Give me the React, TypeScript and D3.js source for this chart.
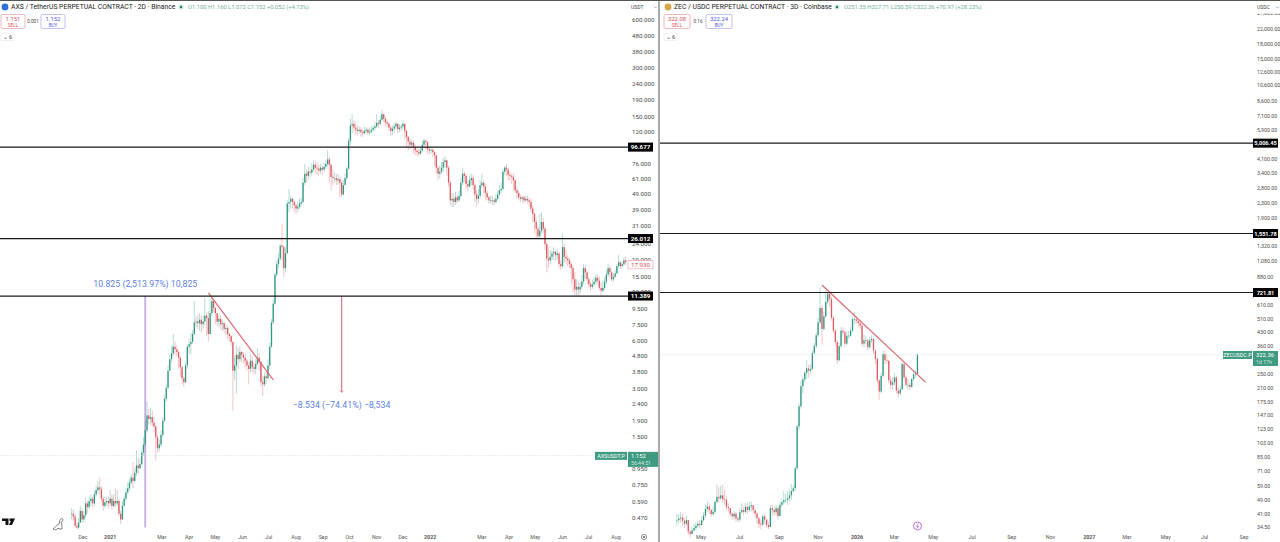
import React from "react";
import * as d3 from "d3";

const FONT = "Roboto, 'Liberation Sans', sans-serif";
const UP = "#2f9880";
const DOWN = "#dc5a62";

// AXS / USDT 2D candles
const axsClose = [
  .50, .48, .42, .41, .44, .52, .46, .49, .58, .55,
  .60, .62, .58, .66, .70, .73, .71, .62, .56, .59,
  .60, .58, .62, .56, .60, .58, .60, .50, .46, .56,
  .62, .68, .72, .78, .84, .80, .90, 1.0, .96, 1.02,
  1.20, 1.35, 1.65, 2.05, 1.95, 2.00, 1.85, 1.75, 1.50, 1.28,
  1.35, 1.55, 1.90, 2.6, 3.05, 3.9, 4.6, 5.0, 5.5, 5.3,
  5.1, 4.7, 4.1, 3.5, 3.3, 4.2, 5.5, 5.7, 5.9, 6.6,
  7.8, 7.9, 7.7, 8.1, 7.6, 7.9, 8.6, 8.3, 6.6, 8.9,
  10.6, 9.6, 8.9, 7.9, 8.2, 7.6, 7.7, 7.1, 7.2, 6.6,
  6.4, 5.9, 3.9, 4.2, 4.9, 4.6, 5.1, 4.9, 4.7, 4.5,
  4.2, 4.0, 4.5, 4.1, 4.0, 4.3, 4.7, 4.4, 3.3, 3.2,
  3.6, 3.5, 4.2, 5.5, 7.8, 10.2, 15.5, 18, 19.5, 23.5,
  23, 17, 21, 43, 44, 46, 44, 42, 40, 41,
  43, 44, 58, 66, 64, 68, 67, 70, 75, 72,
  71, 69, 72, 70, 73, 76, 81, 75, 63, 62,
  62, 60, 61, 58, 49, 56, 62, 71, 106, 132,
  135, 128, 125, 122, 124, 120, 118, 122, 124, 119,
  121, 124, 127, 130, 137, 135, 143, 155, 145, 138,
  135, 128, 122, 126, 130, 135, 125, 128, 130, 135,
  122, 112, 105, 100, 103, 97, 92, 90, 88, 92,
  100, 106, 104, 94, 92, 93, 90, 86, 72, 66,
  68, 72, 78, 80, 72, 58, 45, 46, 44, 47,
  45, 48, 58, 66, 64, 57, 55, 60, 62, 56,
  49, 46, 48, 56, 58, 55, 50, 47, 45, 45,
  45, 44, 46, 49, 52, 53, 68, 72, 70, 65,
  64, 63, 60, 52, 50, 47, 46, 47, 45, 46,
  45, 44, 40, 37, 33, 30, 27, 29, 33, 30,
  24, 19.5, 19, 20, 21, 21.5, 20.5, 21, 18, 17.5,
  23, 20, 19.5, 19, 18, 17, 14.5, 12.5, 13, 12.5,
  13, 14, 17, 16, 14.5, 13.5, 13, 13.5, 14, 14.8,
  14.2, 12.8, 12.3, 12.8, 14, 15.5, 17, 16, 14.5, 15,
  15.8, 17.5, 18.5, 17.5, 18, 19, 18.5,
];
const axsHigh = [
  .54, .53, .50, .44, .47, .56, .54, .52, .63, .60,
  .64, .66, .64, .70, .75, .80, .84, .74, .64, .64,
  .64, .64, .70, .66, .66, .72, .70, .62, .52, .60,
  .65, .72, .78, .82, .88, 1.05, .96, 1.24, 1.12, 1.1,
  1.25, 1.5, 1.9, 2.5, 2.25, 2.3, 2.2, 2.0, 1.8, 1.55,
  1.45, 1.65, 2.0, 2.75, 3.2, 4.2, 4.9, 5.6, 6.6, 5.9,
  5.6, 5.2, 4.8, 4.2, 3.6, 4.4, 5.7, 6.1, 6.7, 7.0,
  10.6, 8.4, 8.7, 8.9, 8.6, 8.6, 11.1, 9.0, 9.2, 11.0,
  11.2, 10.7, 9.7, 8.9, 8.7, 8.7, 8.1, 7.9, 7.6, 7.4,
  6.7, 6.5, 5.9, 4.8, 5.6, 5.4, 5.6, 5.2, 5.1, 5.0,
  4.6, 4.4, 5.0, 4.8, 4.4, 4.6, 5.4, 5.0, 4.5, 3.6,
  3.8, 3.9, 4.6, 5.8, 8.2, 10.8, 16, 19, 21, 24,
  32, 23.5, 23, 45, 53, 48, 47, 45, 43, 44,
  46, 47, 62, 76, 70, 73, 72, 77, 80, 80,
  78, 75, 76, 74, 77, 80, 92, 84, 76, 70,
  67, 66, 66, 63, 60, 60, 66, 73, 110, 145,
  155, 142, 140, 132, 130, 129, 124, 130, 128, 128,
  128, 130, 132, 138, 155, 143, 152, 165, 155, 150,
  142, 138, 132, 132, 137, 140, 137, 134, 135, 143,
  137, 124, 114, 110, 108, 106, 100, 95, 94, 96,
  106, 110, 108, 105, 97, 98, 95, 91, 87, 74,
  74, 78, 83, 85, 81, 74, 60, 50, 50, 51,
  49, 52, 62, 72, 68, 66, 60, 64, 66, 65,
  58, 52, 53, 60, 66, 60, 57, 52, 48, 48,
  48, 47, 49, 52, 56, 58, 71, 74, 76, 72,
  68, 66, 66, 61, 54, 52, 49, 48, 48, 48,
  48, 47, 46, 42, 38, 35, 31, 37, 38, 35,
  31, 25, 23, 22, 22, 23, 22, 22.5, 21.5, 19,
  28, 24, 22, 20.5, 19.5, 18.5, 17.5, 16, 14.5, 14,
  14, 15.5, 18, 17.8, 16.5, 15, 14, 14.5, 15, 15.5,
  15.5, 15, 13.8, 14, 15, 16.5, 18.2, 17.6, 16.5, 15.8,
  16.5, 18, 20.5, 19, 18.5, 20, 20,
];
const axsLow = [
  .46, .45, .41, .40, .40, .44, .44, .44, .47, .50,
  .53, .56, .55, .56, .64, .67, .66, .59, .52, .54,
  .56, .54, .56, .53, .55, .55, .56, .48, .43, .46,
  .55, .60, .66, .70, .76, .72, .78, .86, .88, .94,
  1.0, 1.15, 1.3, 1.6, 1.8, 1.8, 1.75, 1.6, 1.07, 1.2,
  1.22, 1.3, 1.5, 1.85, 2.5, 3.0, 3.9, 4.4, 4.8, 4.9,
  4.8, 4.0, 3.6, 3.2, 3.1, 3.3, 4.0, 5.0, 4.9, 5.7,
  6.5, 7.3, 7.1, 6.9, 6.8, 7.1, 7.5, 6.4, 5.9, 6.5,
  8.5, 9.0, 7.6, 7.4, 7.3, 7.0, 6.9, 6.7, 6.5, 6.1,
  5.9, 5.6, 2.2, 3.4, 2.8, 4.0, 4.4, 4.4, 4.3, 4.1,
  3.9, 3.2, 3.8, 3.8, 3.7, 3.7, 4.2, 3.9, 3.1, 2.7,
  3.1, 3.2, 3.4, 4.0, 5.4, 7.6, 10, 15, 17, 19,
  19, 15, 16, 21, 38, 40, 40, 38, 37, 38,
  40, 41, 43, 56, 58, 60, 63, 64, 68, 66,
  65, 64, 66, 65, 68, 70, 73, 58, 52, 56,
  58, 56, 56, 47, 47, 48, 57, 60, 70, 100,
  118, 122, 115, 114, 117, 113, 112, 116, 118, 115,
  114, 118, 120, 123, 127, 128, 132, 140, 138, 130,
  128, 122, 113, 115, 118, 125, 118, 120, 122, 125,
  108, 96, 92, 94, 95, 88, 86, 85, 85, 86,
  90, 98, 94, 88, 87, 88, 84, 74, 66, 60,
  62, 66, 68, 72, 64, 55, 42, 41, 41, 42,
  43, 44, 46, 56, 58, 53, 51, 54, 56, 52,
  44, 41, 43, 46, 54, 50, 45, 45, 43, 43,
  42, 42, 43, 45, 48, 50, 52, 65, 64, 60,
  60, 57, 52, 50, 46, 45, 44, 44, 43, 44,
  43, 41, 38, 33, 28, 26, 26, 26, 28, 28,
  22, 16, 17, 18, 19, 19, 19, 19, 17, 16.5,
  17, 18.5, 18, 17.5, 17, 13.5, 12, 11.5, 11.5, 11.2,
  11.8, 12.6, 13.5, 14.5, 13.5, 12.8, 12.3, 12.6, 13, 13.4,
  13.5, 12.3, 11.5, 12, 12.4, 13.5, 15, 14.8, 14, 14,
  14.8, 15.6, 17, 16.8, 17, 17.5, 17.8,
];

// ZEC / USDC 3D candles
const zecClose = [
  37.7, 38.5, 39, 37.4, 36, 37.7, 32.5, 31.5, 33, 34,
  35, 36, 35.4, 37.7, 40, 43.6, 45, 43, 40.8, 42,
  47.7, 51, 50, 52, 49.5, 49, 44.8, 44, 41, 39.6,
  41, 38.6, 38, 41.8, 43, 42, 44.8, 43, 45, 45.7,
  43, 41, 38.6, 36, 35.6, 39.6, 38, 35.4, 34.5, 44,
  43, 41.8, 44, 39.8, 46, 47.6, 48.8, 49, 50, 52,
  55, 57, 74, 127, 165, 214, 234, 255, 270, 262,
  268, 330, 360, 415, 490, 590, 450, 530, 640, 710,
  665, 520, 440, 380, 300, 360, 440, 430, 372, 412,
  412, 440, 510, 510, 500, 485, 470, 372, 388, 388,
  355, 388, 395, 340, 305, 231, 200, 245, 325, 300,
  298, 231, 218, 225, 240, 202, 195, 205, 285, 240,
  218, 218, 212, 235, 250, 251.35, 322.36,
];
const zecHigh = [
  41, 41, 42, 41, 39, 40, 38, 33, 34.5, 36,
  36.5, 37.5, 38, 39.5, 42, 46, 48, 47, 44, 45,
  49, 60, 58, 59, 60, 56, 51, 47, 44, 42,
  42.5, 42, 40, 44, 47, 45, 47, 47, 48, 48,
  46, 43, 42, 39, 38, 41, 41, 38, 37, 46,
  46, 45, 46, 45, 48, 50, 55, 53, 55, 56,
  60, 59, 76, 130, 172, 230, 240, 262, 300, 282,
  285, 340, 375, 430, 520, 770, 610, 560, 745, 730,
  725, 680, 535, 450, 390, 375, 460, 460, 440, 440,
  440, 460, 525, 560, 530, 510, 495, 480, 420, 410,
  395, 405, 415, 400, 345, 310, 235, 255, 340, 340,
  320, 300, 245, 240, 255, 245, 210, 215, 290, 295,
  245, 235, 225, 240, 260, 262, 327.71,
];
const zecLow = [
  35, 36, 36.5, 35, 34, 35, 31, 30, 31.5, 32.5,
  33, 34, 33.8, 35, 37, 39, 42, 41, 39.5, 40,
  41, 47, 47, 49, 47, 46, 43, 42, 39.5, 38,
  38, 37, 36.8, 37, 41, 40, 41, 41, 42, 42,
  41, 39, 36, 34, 33.5, 35, 36, 34, 33.5, 34.5,
  40, 40, 40, 38, 39.5, 45, 46, 47, 46, 48,
  49, 54, 55, 72, 122, 160, 195, 225, 235, 240,
  250, 262, 325, 350, 405, 480, 370, 440, 520, 620,
  600, 500, 425, 360, 285, 295, 350, 415, 355, 365,
  395, 405, 430, 480, 480, 465, 450, 360, 355, 370,
  340, 345, 375, 325, 285, 222, 180, 195, 240, 285,
  285, 222, 205, 205, 215, 195, 185, 190, 205, 230,
  212, 205, 205, 210, 230, 240, 250.59,
];

const axsTicks = [600, 480, 380, 300, 240, 190, 150, 120, 76, 61, 49, 39, 31, 24, 19, 15, 12, 9.5, 7.5, 6, 4.8, 3.8, 3, 2.4, 1.9, 1.5, .95, .75, .59, .47];
const zecTicks = [27000, 22000, 18000, 15000, 12600, 10600, 8600, 7100, 5900, 4100, 3400, 2800, 2300, 1900, 1320, 1080, 880, 610, 510, 430, 360, 250, 210, 175, 147, 123, 103, 85, 71, 59, 49, 41, 34.5];

const axsMonths = ["Dec", "2021", "Mar", "Apr", "May", "Jun", "Jul", "Aug", "Sep", "Oct", "Nov", "Dec", "2022", "Mar", "Apr", "May", "Jun", "Jul", "Aug"];
const axsMonthDates = ["2020-12-01", "2021-01-01", "2021-03-01", "2021-04-01", "2021-05-01", "2021-06-01", "2021-07-01", "2021-08-01", "2021-09-01", "2021-10-01", "2021-11-01", "2021-12-01", "2022-01-01", "2022-03-01", "2022-04-01", "2022-05-01", "2022-06-01", "2022-07-01", "2022-08-01"];
const zecMonths = ["May", "Jul", "Sep", "Nov", "2026", "Mar", "May", "Jul", "Sep", "Nov", "2027", "Mar", "May", "Jul", "Sep"];
const zecMonthDates = ["2025-05-01", "2025-07-01", "2025-09-01", "2025-11-01", "2026-01-01", "2026-03-01", "2026-05-01", "2026-07-01", "2026-09-01", "2026-11-01", "2027-01-01", "2027-03-01", "2027-05-01", "2027-07-01", "2027-09-01"];

const axsLevels = [96.677, 26.012, 11.389];
const zecLevels = [5006.45, 1551.78, 721.81];

const day = (s: string) => new Date(s + "T00:00:00Z");

const axsX = d3.scaleUtc().domain([day("2020-12-01"), day("2022-08-01")]).range([83, 616]);
const axsY = d3.scaleLog().domain([600, 0.47]).range([20, 518]);
const zecX = d3.scaleUtc().domain([day("2025-05-01"), day("2027-09-01")]).range([701, 1244]);
const zecY = d3.scaleLog().domain([22000, 34.5]).range([29, 527]);

function Candles({ close, high, low, start, step, x, y }: any) {
  return (
    <g>
      {close.map((c: number, i: number) => {
        const o = i ? close[i - 1] : c;
        const cx = x(d3.utcDay.offset(day(start), i * step));
        const col = c >= o ? UP : DOWN;
        const top = y(Math.max(o, c));
        const h = Math.max(y(Math.min(o, c)) - top, 0.6);
        return (
          <g key={i}>
            <line x1={cx} x2={cx} y1={y(high[i])} y2={y(low[i])} stroke={col} strokeOpacity={0.5} strokeWidth={0.7} />
            <rect x={cx - 0.65} width={1.3} y={top} height={h} fill={col} />
          </g>
        );
      })}
    </g>
  );
}

function Header({ x0, icon, title, ohlc, ohlcX, sell, spread, buy, boxW }: any) {
  return (
    <g fontFamily={FONT}>
      <circle cx={x0 + 5} cy={7} r={3.4} fill={icon} />
      <text x={x0 + 11} y={9.3} fontSize={6.8} fill="#222">{title}</text>
      <circle cx={ohlcX - 7} cy={7} r={2.6} fill="#cfe8e0" />
      <circle cx={ohlcX - 7} cy={7} r={1.2} fill="#2f7a68" />
      <text x={ohlcX} y={9.2} fontSize={5.8} fill="#6fae9d">{ohlc}</text>
      <rect x={x0 + 1} y={14.5} width={boxW} height={14} rx={1.5} fill="#fff" stroke="#e39a9e" strokeWidth={0.7} />
      <text x={x0 + 1 + boxW / 2} y={20.6} fontSize={5.9} fill="#d8505a" textAnchor="middle">{sell}</text>
      <text x={x0 + 1 + boxW / 2} y={26.6} fontSize={4.6} fill="#d8505a" textAnchor="middle">SELL</text>
      <text x={x0 + boxW + 9} y={23.2} fontSize={4.6} fill="#444" textAnchor="middle">{spread}</text>
      <rect x={x0 + boxW + 17} y={14.5} width={boxW} height={14} rx={1.5} fill="#fff" stroke="#a5a8e6" strokeWidth={0.7} />
      <text x={x0 + boxW * 1.5 + 17} y={20.6} fontSize={5.9} fill="#4f56d8" textAnchor="middle">{buy}</text>
      <text x={x0 + boxW * 1.5 + 17} y={26.6} fontSize={4.6} fill="#4f56d8" textAnchor="middle">BUY</text>
      <rect x={x0 + 1} y={33} width={13} height={7.5} rx={1} fill="#fff" stroke="#e4e4e4" strokeWidth={0.6} />
      <text x={x0 + 7.5} y={39} fontSize={5.6} fill="#444" textAnchor="middle">⌄ 6</text>
    </g>
  );
}

function AxisY({ ticks, y, fmt, x, size }: any) {
  return (
    <g fontFamily={FONT} fontSize={size} fill="#4a4a4a">
      {ticks.map((t: number) => (
        <text key={t} x={x} y={y(t) + 2}>{fmt(t)}</text>
      ))}
    </g>
  );
}

function AxisX({ labels, dates, x }: any) {
  return (
    <g fontFamily={FONT} fontSize={5.3} fill="#555" textAnchor="middle">
      {labels.map((l: string, i: number) => (
        <text key={i} x={x(day(dates[i]))} y={539} fontWeight={/\d/.test(l) ? 700 : 400}>{l}</text>
      ))}
    </g>
  );
}

function Levels({ values, y, x1, x2, lx, lw, fmt, size }: any) {
  return (
    <g fontFamily={FONT}>
      {values.map((v: number) => (
        <g key={v}>
          <line x1={x1} x2={x2} y1={y(v)} y2={y(v)} stroke="#1a1a1a" strokeWidth={1.2} />
          <rect x={lx} y={y(v) - 4.5} width={lw} height={9} fill="#000" />
          <text x={lx + lw / 2} y={y(v) + 2.1} fontSize={size} fontWeight={700} fill="#fff" textAnchor="middle">{fmt(v)}</text>
        </g>
      ))}
    </g>
  );
}

function PriceTag({ y, lineX1, lineX2, tagX, tagW, boxX, boxW, sym, price, timer }: any) {
  return (
    <g fontFamily={FONT}>
      <line x1={lineX1} x2={lineX2} y1={y} y2={y} stroke="#c9e0da" strokeWidth={0.7} strokeDasharray="1 1.2" />
      <rect x={tagX} y={y - 3.7} width={tagW} height={8} fill="#3f9a82" />
      <text x={tagX + tagW / 2} y={y + 2.4} fontSize={5.4} fill="#fff" textAnchor="middle">{sym}</text>
      <rect x={boxX} y={y - 3.7} width={boxW} height={15} fill="#3f9a82" />
      <text x={boxX + 3} y={y + 2.4} fontSize={5.9} fill="#fff">{price}</text>
      <text x={boxX + 3} y={y + 9.2} fontSize={5.2} fill="#cfe8e0">{timer}</text>
    </g>
  );
}

export default function App() {
  const axsF = d3.format(".3f");
  const zecF = d3.format(",.2f");
  const axsBoxX = axsX(day("2021-02-10"));
  const axsDrop = axsX(day("2021-09-22"));
  return (
    <svg width={1280} height={542} viewBox="0 0 1280 542" style={{ position: "fixed", left: 0, top: 0, background: "#fff" }}>
      {/* left pane */}
      <g>
        <line x1={axsBoxX} x2={axsBoxX} y1={axsY(0.41)} y2={axsY(11.389)} stroke="#c6aee2" strokeWidth={1.9} />
        <Candles close={axsClose} high={axsHigh} low={axsLow} start="2020-11-18" step={2} x={axsX} y={axsY} />
        <line x1={axsX(day("2021-04-23"))} x2={axsX(day("2021-07-06"))} y1={axsY(11.9)} y2={axsY(3.42)} stroke="#d96a70" strokeWidth={1.2} />
        <line x1={axsDrop} x2={axsDrop} y1={axsY(11.389)} y2={axsY(2.855)} stroke="#d8808f" strokeWidth={1.3} />
        <path d={`M${axsDrop - 2} ${axsY(2.855) - 2} L${axsDrop} ${axsY(2.855)} L${axsDrop + 2} ${axsY(2.855) - 2}`} fill="none" stroke="#d8808f" strokeWidth={0.8} />
        <text x={axsBoxX} y={287} fontFamily={FONT} fontSize={8.8} fill="#5f7fe0" textAnchor="middle">10.825 (2,513.97%) 10,825</text>
        <text x={axsDrop} y={407.5} fontFamily={FONT} fontSize={8.8} fill="#5f7fe0" textAnchor="middle">−8.534 (−74.41%) −8,534</text>
        <AxisY ticks={axsTicks} y={axsY} fmt={axsF} x={632} size={6.2} />
        <PriceTag y={axsY(1.152)} lineX1={0} lineX2={595} tagX={595} tagW={32} boxX={628} boxW={30} sym="AXSUSDT.P" price="1.152" timer="56:44:51" />
        <Levels values={axsLevels} y={axsY} x1={0} x2={628} lx={628} lw={25} fmt={axsF} size={6.2} />
        <rect x={628} y={axsY(17.93) - 4} width={25} height={8.4} fill="#fff" stroke="#e79a9e" strokeWidth={0.6} />
        <text x={640.5} y={axsY(17.93) + 2.2} fontFamily={FONT} fontSize={6.2} fill="#d8505a" textAnchor="middle">17.930</text>
        <AxisX labels={axsMonths} dates={axsMonthDates} x={axsX} />
        <text x={631} y={9.2} fontFamily={FONT} fontSize={5} fill="#444">USDT</text>
        <path d="M654 6.5 L655.5 8 L657 6.5" fill="none" stroke="#666" strokeWidth={0.5} />
        <circle cx={644} cy={537} r={2.6} fill="none" stroke="#444" strokeWidth={0.6} />
        <circle cx={644} cy={537} r={0.9} fill="#444" />
        <Header x0={0} icon="#2f6fd8" title="AXS / TetherUS PERPETUAL CONTRACT · 2D · Binance" ohlc="O1.100 H1.160 L1.073 C1.152 +0.052 (+4.73%)" ohlcX={188} sell="1.151" spread="0.001" buy="1.152" boxW={24} />
        {/* TradingView mark and the cursor sketch */}
        <path d="M2 518.5 h6.5 v6.5 h-3 v-4 h-3.5 z M9.5 518.5 h5.5 l-3 6.5 h-3 l1.8 -4 h-1.3 z" fill="#111" />
        <path d="M53 529 c2 -1 3 -4 6 -5 l1 -4 c1 -2 3 -2 3 0 c0 1 -1 1 -2 2 l1 4 l0 3 h-3 l-1 -1 l-2 2 z" fill="none" stroke="#333" strokeWidth={0.6} />
      </g>

      {/* pane divider and top rule */}
      <line x1={659} x2={659} y1={0} y2={542} stroke="#555" strokeWidth={1} />
      <line x1={0} x2={1280} y1={0.5} y2={0.5} stroke="#555" strokeWidth={1} />

      {/* right pane */}
      <g>
        <Candles close={zecClose} high={zecHigh} low={zecLow} start="2025-03-24" step={3} x={zecX} y={zecY} />
        <line x1={zecX(day("2025-11-07"))} x2={zecX(day("2026-04-19"))} y1={zecY(795)} y2={zecY(225)} stroke="#d96a70" strokeWidth={1.2} />
        <AxisY ticks={zecTicks} y={zecY} fmt={zecF} x={1257} size={5.3} />
        <PriceTag y={zecY(322.36)} lineX1={660} lineX2={1223} tagX={1223} tagW={29} boxX={1253} boxW={25} sym="ZECUSDC.P" price="322.36" timer="1d 17h" />
        <rect x={1240} y={1} width={40} height={12.5} fill="#fff" />
        <Levels values={zecLevels} y={zecY} x1={660} x2={1253} lx={1253} lw={25} fmt={zecF} size={5.6} />
        <AxisX labels={zecMonths} dates={zecMonthDates} x={zecX} />
        <text x={1257} y={9.2} fontFamily={FONT} fontSize={5} fill="#444">USDC</text>
        <path d="M1276 6.5 L1277.5 8 L1279 6.5" fill="none" stroke="#666" strokeWidth={0.5} />
        <Header x0={663} icon="#d9a441" title="ZEC / USDC PERPETUAL CONTRACT · 3D · Coinbase" ohlc="O251.35 H327.71 L250.59 C322.36 +70.97 (+28.23%)" ohlcX={844} sell="322.08" spread="0.16" buy="322.24" boxW={26} />
        <circle cx={917.5} cy={526} r={4} fill="#fff" stroke="#a855c7" strokeWidth={0.8} />
        <path d="M918.5 523.5 L916.5 526.5 L918.5 526.5 L916.8 528.6" fill="none" stroke="#a855c7" strokeWidth={0.7} />
      </g>
    </svg>
  );
}
